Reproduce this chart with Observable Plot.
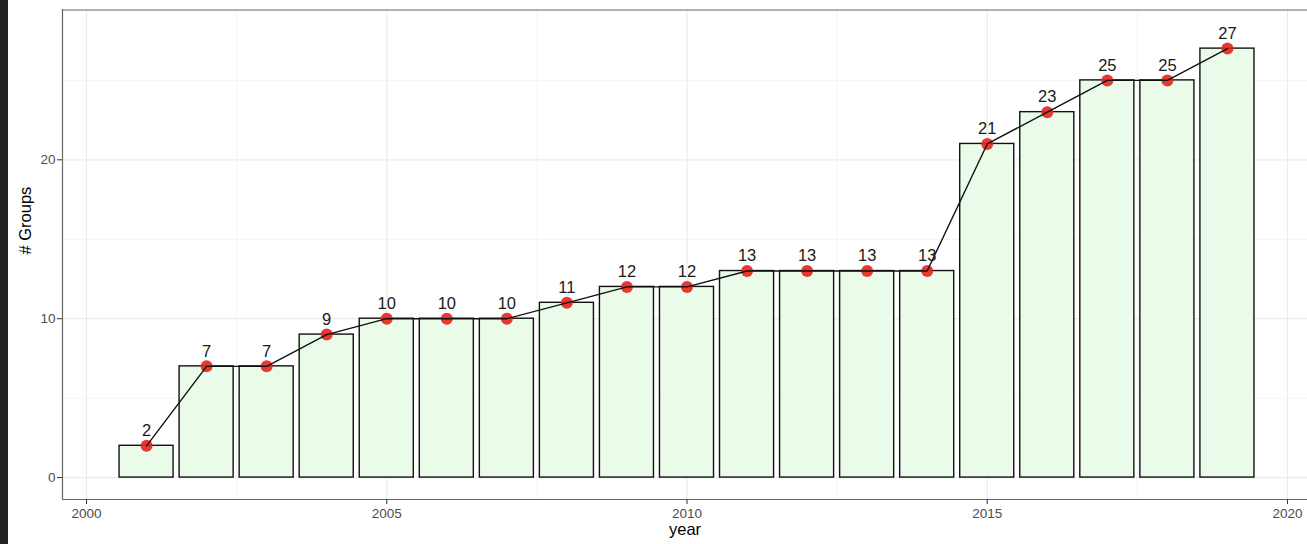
<!DOCTYPE html>
<html>
<head>
<meta charset="utf-8">
<script src="https://cdn.jsdelivr.net/npm/d3@7"></script>
<script src="https://cdn.jsdelivr.net/npm/@observablehq/plot@0.6"></script>
<style>
  html, body { margin: 0; padding: 0; background: #fff; }
  #wrap { position: relative; width: 1307px; height: 544px; overflow: hidden; }
  #strip { position: absolute; left: 0; top: 0; width: 8px; height: 544px; background: #232323; }
  svg { display: block; }
</style>
</head>
<body>
<div id="wrap"><div id="chart"></div><div id="strip"></div></div>
<script>
const years = [2001, 2002, 2003, 2004, 2005, 2006, 2007, 2008, 2009, 2010, 2011, 2012, 2013, 2014, 2015, 2016, 2017, 2018, 2019];
const groups = [2, 7, 7, 9, 10, 10, 10, 11, 12, 12, 13, 13, 13, 13, 21, 23, 25, 25, 27];
const xTicks = [2000, 2005, 2010, 2015, 2020];
const xMinor = [2002.5, 2007.5, 2012.5, 2017.5];
const yTicks = [0, 10, 20];
const yMinor = [5, 15, 25];

const data = years.map((y, i) => ({year: y, value: groups[i]}));
const xDom = [1999.6, 2020.4];
const yDom = [-1.38, 29.43];
const font = "Liberation Sans, Arial, Helvetica, sans-serif";

const chart = Plot.plot({
  width: 1307,
  height: 544,
  marginLeft: 62,
  marginRight: 0,
  marginTop: 9,
  marginBottom: 45,
  style: {fontFamily: font, fontSize: "13.5px", background: "#fff", overflow: "hidden"},
  x: {domain: xDom, range: [62, 1311]},
  y: {domain: yDom, range: [499, 9.5]},
  marks: [
    Plot.ruleX(xMinor, {stroke: "#f2f2f2", strokeWidth: 0.8}),
    Plot.ruleY(yMinor, {stroke: "#f2f2f2", strokeWidth: 0.8}),
    Plot.ruleX(xTicks, {stroke: "#ebebeb", strokeWidth: 1.2}),
    Plot.ruleY(yTicks, {stroke: "#ebebeb", strokeWidth: 1.2}),
    Plot.rectY(data, {x1: d => d.year - 0.45, x2: d => d.year + 0.45, y: "value", fill: "#eafbe9", stroke: "#111", strokeWidth: 1.4}),
    Plot.dot(data, {x: "year", y: "value", r: 6, fill: "#e3291f", fillOpacity: 0.92, stroke: "none"}),
    Plot.line(data, {x: "year", y: "value", stroke: "#111", strokeWidth: 1.4}),
    Plot.text(data, {x: "year", y: "value", text: d => String(d.value), dy: -15, fontSize: 16.5, fill: "#1a1a1a"}),
    Plot.ruleY([yDom[1]], {stroke: "#666", strokeWidth: 1.2}),
    Plot.ruleY([yDom[0]], {stroke: "#666", strokeWidth: 1.2}),
    Plot.ruleX([xDom[0]], {stroke: "#666", strokeWidth: 1.2}),
    Plot.axisX(xTicks, {tickSize: 5, tickPadding: 4, tickFormat: d => String(d), color: "#4d4d4d", stroke: "#333", label: null}),
    Plot.axisY(yTicks, {tickSize: 5, tickPadding: 2, tickFormat: d => String(d), color: "#4d4d4d", stroke: "#333", label: null}),
    Plot.text(["# Groups"], {frameAnchor: "left", dx: -37, rotate: -90, fontSize: 16.5, fill: "#000"}),
    Plot.text(["year"], {frameAnchor: "bottom", dy: 35, fontSize: 16.5, fill: "#000"})
  ]
});
document.getElementById("chart").appendChild(chart);
</script>
</body>
</html>
